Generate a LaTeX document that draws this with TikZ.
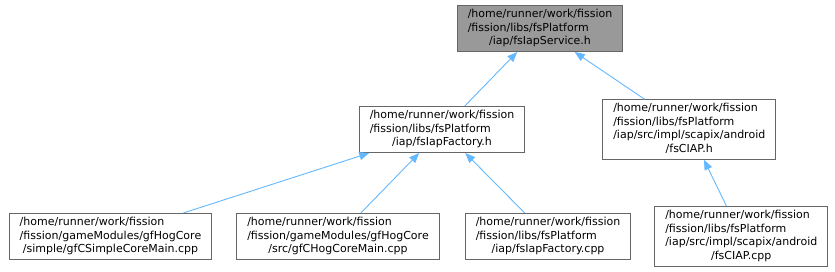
\documentclass[tikz,border=0pt]{standalone}
\usepackage{fontspec}
\setmainfont{DejaVu Sans}
\usepackage{tikz}
\usetikzlibrary{positioning,arrows.meta}
\usepackage{xcolor}
\definecolor{edgeblue}{HTML}{63B8FF}
\definecolor{boxgray}{HTML}{666666}
\definecolor{nodegray}{HTML}{999999}
\newcommand{\lastrow}[1]{\multicolumn{1}{@{}c@{}}{#1}}

\begin{document}
\begin{tikzpicture}[
      x=1pt, y=-1pt,
      every node/.style={font=\fontsize{11}{13.5}\selectfont},
      box/.style={
        draw=boxgray,
        fill=white,
        line width=1pt,
        inner xsep=10.5pt,
        inner ysep=2.75pt
      },
      current/.style={box, fill=nodegray},
      arrow/.style={<-, >={Triangle[length=10pt,width=8pt]}, line width=0.9pt, draw=edgeblue}
    ]
      \useasboundingbox (0,0) rectangle (835,271);
      \node[current] (svc) at (540,28.5) {\begin{tabular}{@{}l@{}}/home/runner/work/fission\\/fission/libs/fsPlatform\\\lastrow{/iap/fsIapService.h}\end{tabular}};
      \node[box, below=54pt of svc, xshift=-98pt] (fac) {\begin{tabular}{@{}l@{}}/home/runner/work/fission\\/fission/libs/fsPlatform\\\lastrow{/iap/fsIapFactory.h}\end{tabular}};
      \node[box, right=77pt of fac] (ciaph) {\begin{tabular}{@{}l@{}}/home/runner/work/fission\\/fission/libs/fsPlatform\\/iap/src/impl/scapix/android\\\lastrow{/fsCIAP.h}\end{tabular}};
      \node[box, below=60pt of fac, xshift=106pt] (faccpp) {\begin{tabular}{@{}l@{}}/home/runner/work/fission\\/fission/libs/fsPlatform\\\lastrow{/iap/fsIapFactory.cpp}\end{tabular}};
      \node[box, left=25pt of faccpp] (hogmain) {\begin{tabular}{@{}l@{}}/home/runner/work/fission\\/fission/gameModules/gfHogCore\\\lastrow{/src/gfCHogCoreMain.cpp}\end{tabular}};
      \node[box, left=24pt of hogmain] (simplemain) {\begin{tabular}{@{}l@{}}/home/runner/work/fission\\/fission/gameModules/gfHogCore\\\lastrow{/simple/gfCSimpleCoreMain.cpp}\end{tabular}};
      \node[box, right=23pt of faccpp] (ciapcpp) {\begin{tabular}{@{}l@{}}/home/runner/work/fission\\/fission/libs/fsPlatform\\/iap/src/impl/scapix/android\\\lastrow{/fsCIAP.cpp}\end{tabular}};
      \draw[arrow] (svc) -- (fac);
      \draw[arrow] (svc) -- (ciaph);
      \draw[arrow] (fac) -- (simplemain);
      \draw[arrow] (fac) -- (hogmain);
      \draw[arrow] (fac) -- (faccpp);
      \draw[arrow] (ciaph) -- (ciapcpp);
    \end{tikzpicture}
\end{document}
